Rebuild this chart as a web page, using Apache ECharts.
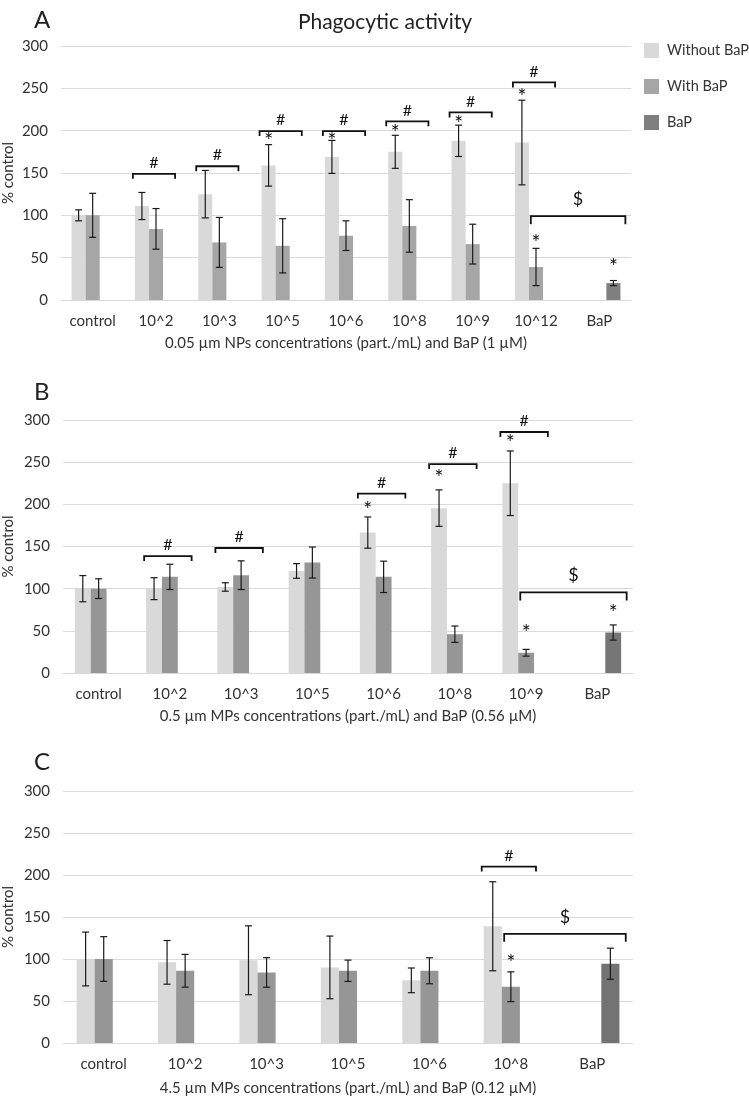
<!DOCTYPE html>
<html><head><meta charset="utf-8">
<script src="https://cdn.jsdelivr.net/npm/echarts@6/dist/echarts.min.js"></script>
<style>html,body{margin:0;padding:0;background:#fff}#c{width:749px;height:1100px}</style>
</head><body><div id="c"></div>
<script>
// ---------- DATA ----------
const seriesNames = ['Without BaP', 'With BaP', 'BaP'];
const yTicks = [0, 50, 100, 150, 200, 250, 300];

// Panel A
const catsA = ['control', '10^2', '10^3', '10^5', '10^6', '10^8', '10^9', '10^12', 'BaP'];
const withoutA = [100, 111, 125, 159, 169, 175, 188, 186, null];
const withoutErrA = [6.5, 16, 28, 24.5, 19.5, 19.5, 18.5, 50, null];
const withA = [100, 84, 68, 64, 76, 87.5, 66, 39, null];
const withErrA = [26, 24, 29.5, 32, 17.5, 31, 23.5, 22, null];
const bapA = [null, null, null, null, null, null, null, null, 20];
const bapErrA = [null, null, null, null, null, null, null, null, 3];
const hashA = [[1, 149], [2, 158], [3, 199.5], [4, 199.5], [5, 211], [6, 221.5], [7, 257]];
const dollarA = [[7, 8, 99]];
const starsA = [[3, -1, 192.7], [4, -1, 192.7], [5, -1, 201.4], [6, -1, 212.5], [7, -1, 244.8], [7, 0, 72], [8, 1, 43]];
const xNameA = '0.05 µm NPs concentrations (part./mL) and BaP (1 µM)';

// Panel B
const catsB = ['control', '10^2', '10^3', '10^5', '10^6', '10^8', '10^9', 'BaP'];
const withoutB = [100, 100, 102, 121, 166.5, 195.5, 225, null];
const withoutErrB = [15.5, 13, 5, 8.7, 18.5, 21.6, 38.3, null];
const withB = [100, 114, 116, 131, 114, 46, 24, null];
const withErrB = [11.7, 15, 17, 18.4, 18.6, 9.7, 4, null];
const bapB = [null, null, null, null, null, null, null, 48];
const bapErrB = [null, null, null, null, null, null, null, 9];
const hashB = [[1, 138.7], [2, 148.2], [4, 212.8], [5, 247.7], [6, 285.8]];
const dollarB = [[6, 7, 95.5]];
const starsB = [[4, -1, 198], [5, -1, 235.4], [6, -1, 277.4], [6, 0, 52.3], [7, 1, 75.3]];
const xNameB = '0.5 µm MPs concentrations (part./mL) and BaP (0.56 µM)';

// Panel C
const catsC = ['control', '10^2', '10^3', '10^5', '10^6', '10^8', 'BaP'];
const withoutC = [100, 96, 98.5, 90, 74.6, 139, null];
const withoutErrC = [32, 26, 41, 37.3, 14.7, 53, null];
const withC = [100, 86, 84, 86, 86, 67, null];
const withErrC = [26.6, 19.5, 17.6, 12.7, 15.5, 17.7, null];
const bapC = [null, null, null, null, null, null, 94.4];
const bapErrC = [null, null, null, null, null, null, 18.5];
const hashC = [[5, 210]];
const dollarC = [[5, 6, 130]];
const starsC = [[5, 0, 99.6]];
const xNameC = '4.5 µm MPs concentrations (part./mL) and BaP (0.12 µM)';

// ---------- STYLE / LAYOUT ----------
const FONT = 'Lato, "Open Sans", sans-serif';
const TXT = '#333';
const SLOT = 0.2222;
const panels = [
  {letter: 'A', cats: catsA, vals: [withoutA, withA, bapA], errs: [withoutErrA, withErrA, bapErrA],
   hash: hashA, dollar: dollarA, stars: starsA, xName: xNameA,
   colors: ['#d9d9d9', '#a6a6a6', '#7f7f7f'],
   grid: {left: 61, top: 46, width: 570, height: 254}, letterTop: 3, nameGap: 36, yNameGap: 45},
  {letter: 'B', cats: catsB, vals: [withoutB, withB, bapB], errs: [withoutErrB, withErrB, bapErrB],
   hash: hashB, dollar: dollarB, stars: starsB, xName: xNameB,
   colors: ['#d9d9d9', '#969696', '#767676'],
   grid: {left: 63, top: 420, width: 570, height: 253}, letterTop: 375, nameGap: 36, yNameGap: 47},
  {letter: 'C', cats: catsC, vals: [withoutC, withC, bapC], errs: [withoutErrC, withErrC, bapErrC],
   hash: hashC, dollar: dollarC, stars: starsC, xName: xNameC,
   colors: ['#d9d9d9', '#969696', '#737373'],
   grid: {left: 63, top: 791, width: 570, height: 252}, letterTop: 745, nameGap: 38, yNameGap: 47}
];

const grids = [], xAxes = [], yAxes = [], series = [];
const titles = [{text: 'Phagocytic activity', left: 380, textAlign: 'center', top: 7,
  textStyle: {fontFamily: FONT, fontSize: 21, fontWeight: 'normal', color: '#222'}}];

panels.forEach((p, i) => {
  grids.push(Object.assign({outerBoundsMode: 'none', containLabel: false}, p.grid));
  titles.push({text: p.letter, left: 29, top: p.letterTop,
    textStyle: {fontFamily: FONT, fontSize: 24, fontWeight: 'normal', color: '#222'}});
  xAxes.push({type: 'category', gridIndex: i, data: p.cats,
    axisLine: {lineStyle: {color: '#d9d9d9', width: 1}}, axisTick: {show: false},
    axisLabel: {fontFamily: FONT, fontSize: 15, color: TXT, margin: 14, interval: 0},
    name: p.xName, nameLocation: 'middle', nameGap: p.nameGap, nameMoveOverlap: false,
    nameTextStyle: {fontFamily: FONT, fontSize: 15, color: TXT}});
  yAxes.push({type: 'value', gridIndex: i, min: 0, max: 300, interval: 50,
    axisLine: {show: false}, axisTick: {show: false},
    axisLabel: {fontFamily: FONT, fontSize: 15, color: TXT, margin: 13,
      formatter: v => yTicks.includes(v) ? String(v) : ''},
    splitLine: {lineStyle: {color: '#d9d9d9', width: 1}},
    name: '% control', nameLocation: 'middle', nameGap: p.yNameGap, nameRotate: 90, nameMoveOverlap: false,
    nameTextStyle: {fontFamily: FONT, fontSize: 15, color: TXT}});

  seriesNames.forEach((nm, k) => {
    series.push({name: nm, type: 'bar', xAxisIndex: i, yAxisIndex: i, data: p.vals[k],
      barWidth: (SLOT * 100) + '%', barGap: '0%', itemStyle: {color: p.colors[k]}, z: 2,
      emphasis: {disabled: true}});
  });

  // error bars
  const errData = [];
  p.vals.forEach((arr, k) => arr.forEach((v, c) => {
    if (v != null && p.errs[k][c] != null) errData.push([c, v, p.errs[k][c], k - 1]);
  }));
  series.push({type: 'custom', name: 'err' + i, xAxisIndex: i, yAxisIndex: i, z: 5,
    data: errData, encode: {x: 0, y: 1}, silent: true,
    renderItem: (params, api) => {
      const c = api.value(0), v = api.value(1), e = api.value(2), s = api.value(3);
      const sw = api.size([1, 0])[0] * SLOT;
      const x = api.coord([c, v])[0] + s * sw;
      const yt = api.coord([c, v + e])[1], yb = api.coord([c, v - e])[1];
      const h = 3.5, st = {stroke: '#1a1a1a', lineWidth: 1.2};
      return {type: 'group', children: [
        {type: 'line', shape: {x1: x, y1: yt, x2: x, y2: yb}, style: st},
        {type: 'line', shape: {x1: x - h, y1: yt, x2: x + h, y2: yt}, style: st},
        {type: 'line', shape: {x1: x - h, y1: yb, x2: x + h, y2: yb}, style: st}
      ]};
    }});

  // # brackets
  series.push({type: 'custom', name: 'hash' + i, xAxisIndex: i, yAxisIndex: i, z: 6,
    data: p.hash, encode: {x: 0, y: 1}, silent: true,
    renderItem: (params, api) => {
      const c = api.value(0), v = api.value(1);
      const sw = api.size([1, 0])[0] * SLOT;
      const pt = api.coord([c, v]);
      const x1 = pt[0] - 1.5 * sw - 2, x2 = pt[0] + 1.5 * sw - 2, y = pt[1];
      const st = {stroke: '#111', lineWidth: 1.8, fill: null};
      return {type: 'group', children: [
        {type: 'polyline', shape: {points: [[x1, y + 5], [x1, y], [x2, y], [x2, y + 5]]}, style: st},
        {type: 'text', x: (x1 + x2) / 2, y: y - 11,
         style: {text: '#', fontFamily: FONT, fontSize: 16, fill: '#111', align: 'center', verticalAlign: 'middle'}}
      ]};
    }});

  // $ brackets
  series.push({type: 'custom', name: 'dollar' + i, xAxisIndex: i, yAxisIndex: i, z: 6,
    data: p.dollar, encode: {x: 0, y: 2}, silent: true,
    renderItem: (params, api) => {
      const c1 = api.value(0), c2 = api.value(1), v = api.value(2);
      const sw = api.size([1, 0])[0] * SLOT;
      const x1 = api.coord([c1, v])[0] - 0.37 * sw;
      const x2 = api.coord([c2, v])[0] + 1.85 * sw;
      const y = api.coord([c1, v])[1];
      const st = {stroke: '#111', lineWidth: 1.8, fill: null};
      return {type: 'group', children: [
        {type: 'polyline', shape: {points: [[x1, y + 8], [x1, y], [x2, y], [x2, y + 8]]}, style: st},
        {type: 'text', x: (x1 + x2) / 2, y: y - 17,
         style: {text: '$', fontFamily: FONT, fontSize: 18, fill: '#111', align: 'center', verticalAlign: 'middle'}}
      ]};
    }});

  // stars
  series.push({type: 'custom', name: 'star' + i, xAxisIndex: i, yAxisIndex: i, z: 6,
    data: p.stars, encode: {x: 0, y: 2}, silent: true,
    renderItem: (params, api) => {
      const c = api.value(0), s = api.value(1), v = api.value(2);
      const sw = api.size([1, 0])[0] * SLOT;
      const pt = api.coord([c, v]);
      return {type: 'text', x: pt[0] + s * sw, y: pt[1] + 4,
        style: {text: '*', fontFamily: FONT, fontSize: 21, fill: '#111', align: 'center', verticalAlign: 'middle'}};
    }});
});

const chart = echarts.init(document.getElementById('c'), null, {renderer: 'canvas'});
chart.setOption({
  animation: false,
  backgroundColor: '#fff',
  title: titles,
  legend: {data: seriesNames, orient: 'vertical', left: 644, top: 43, padding: 0, itemWidth: 15, itemHeight: 15,
    itemGap: 21, icon: 'rect', selectedMode: false,
    textStyle: {fontFamily: FONT, fontSize: 14.5, color: TXT, padding: [0, 0, 0, 3]}},
  grid: grids, xAxis: xAxes, yAxis: yAxes, series: series
});
</script></body></html>
